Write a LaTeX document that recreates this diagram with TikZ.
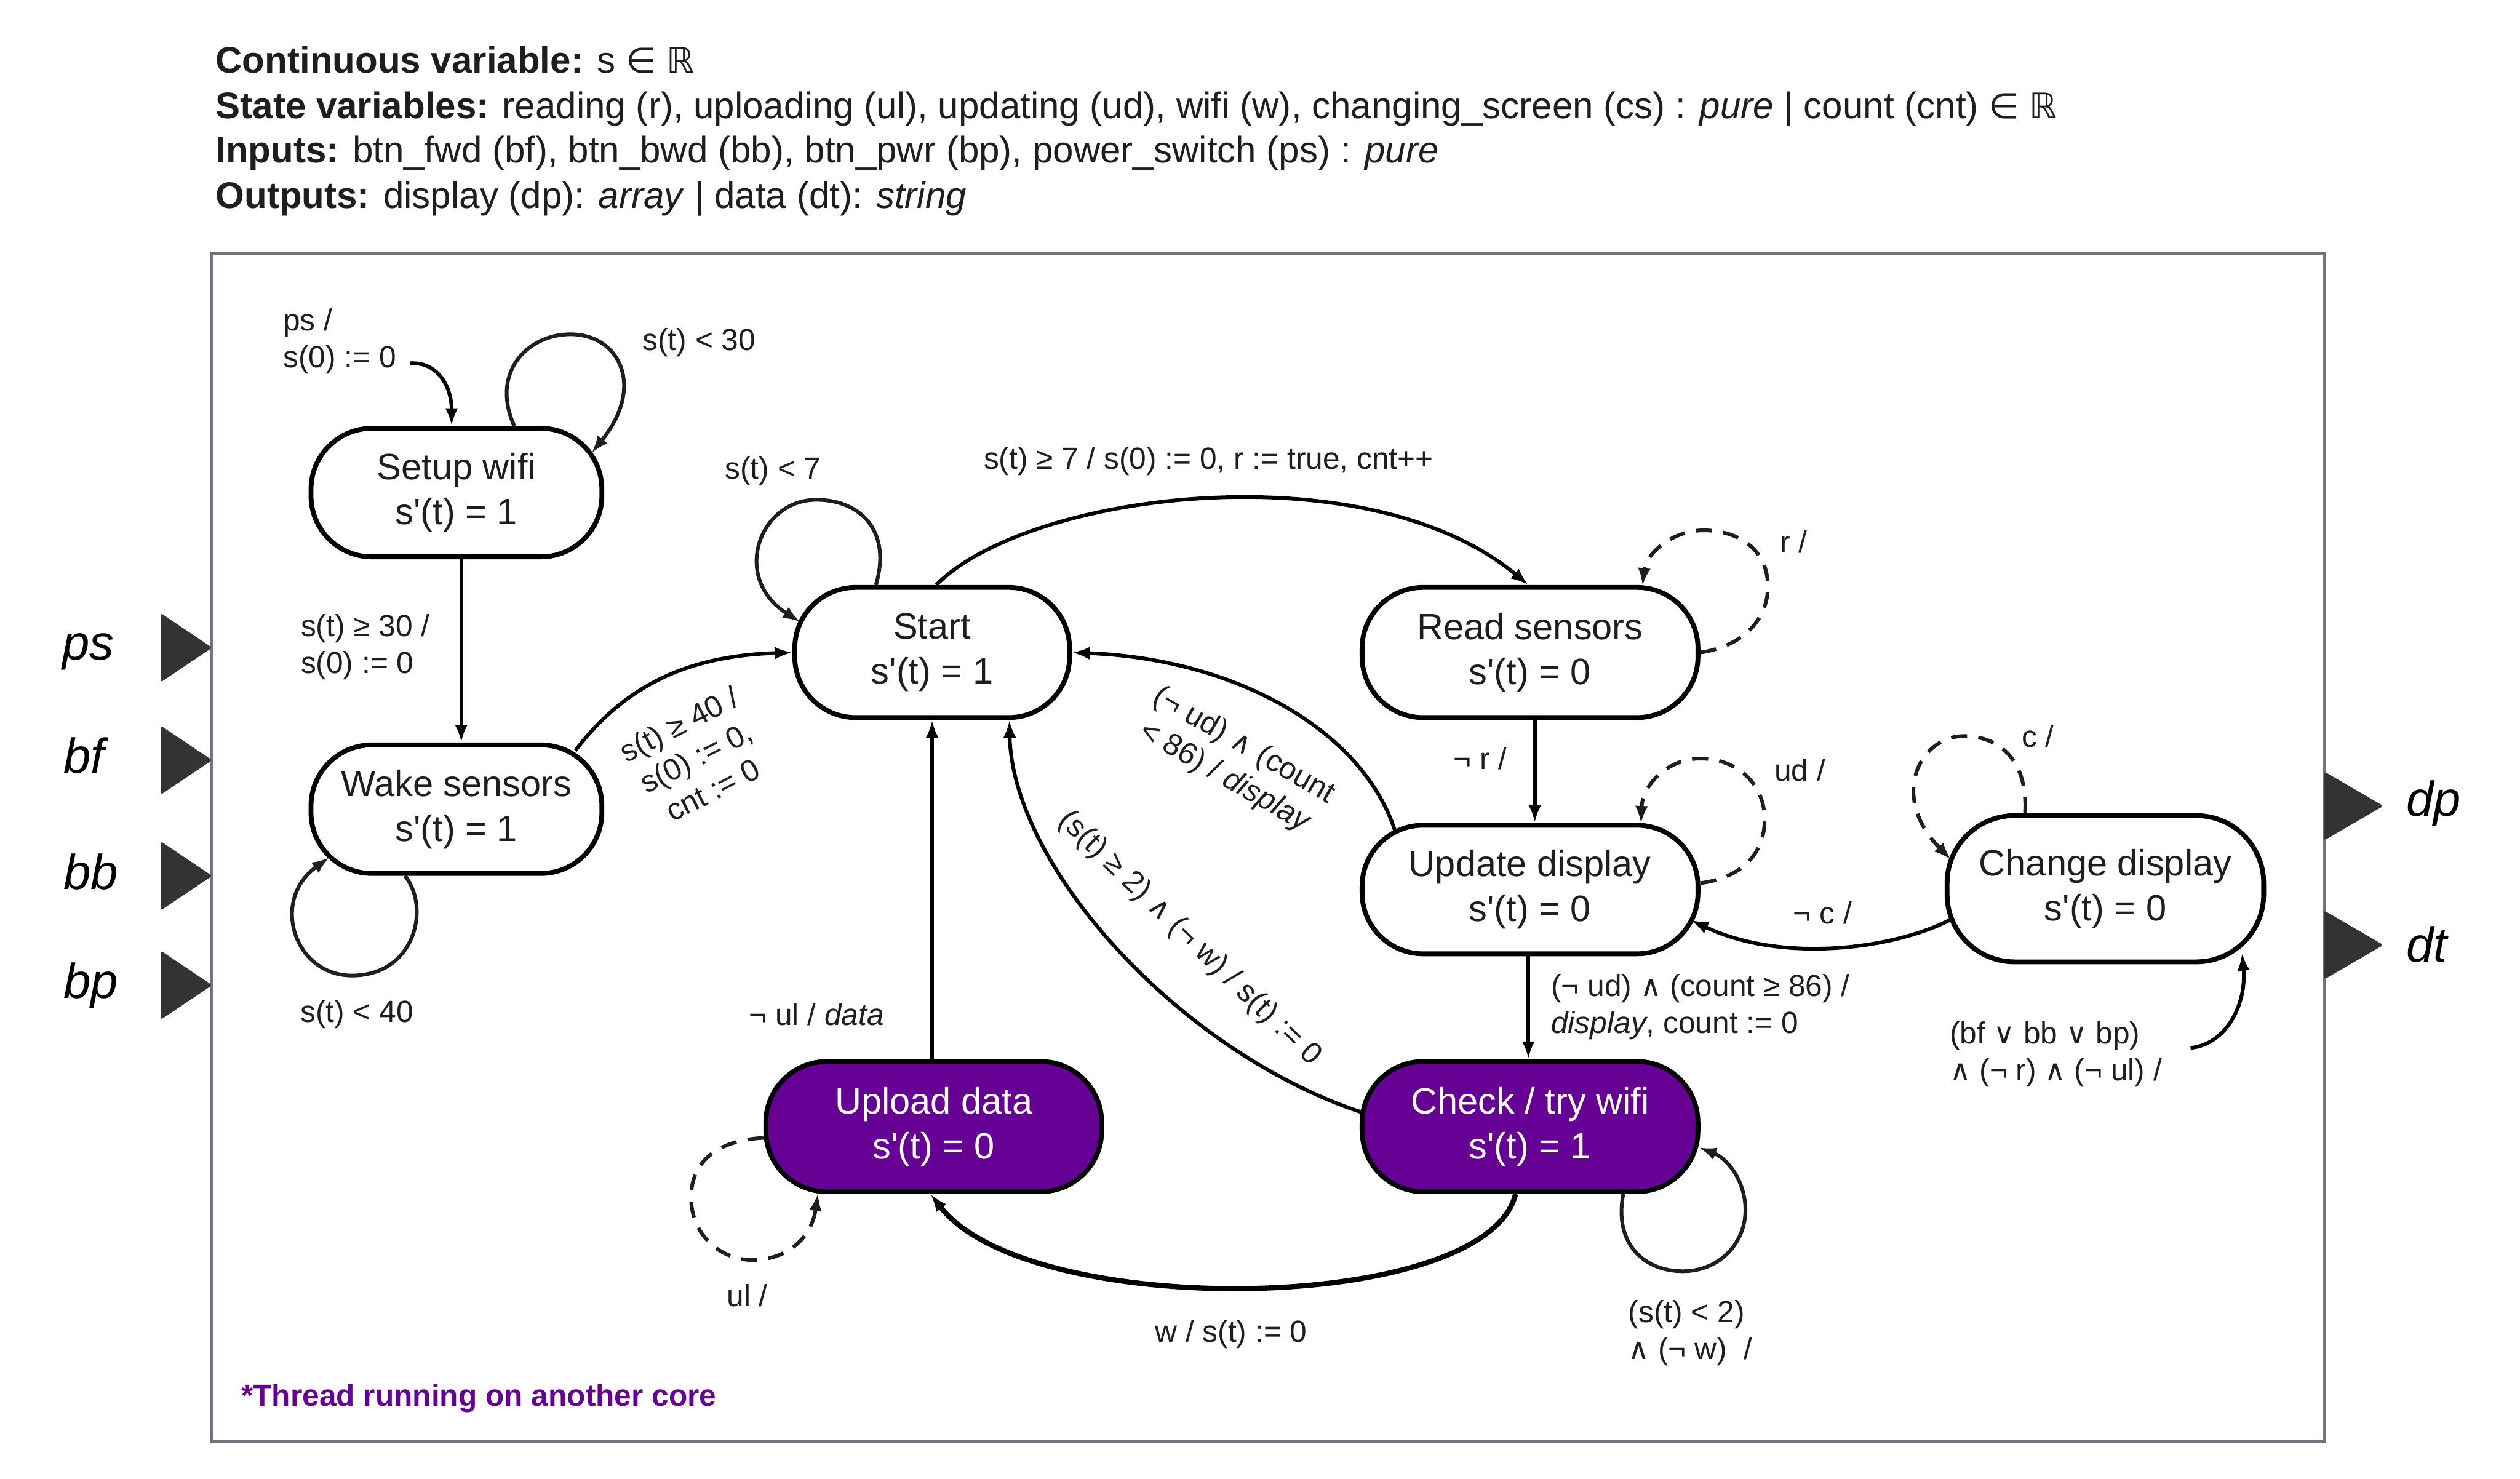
\documentclass[tikz,border=0pt]{standalone}
\usepackage{fontspec}
\newfontfamily\lsans{Liberation Sans}
\newfontfamily\dvs{DejaVu Sans}[Scale=0.95]
\usetikzlibrary{arrows.meta,calc}
\definecolor{purp}{RGB}{102,0,148}
\definecolor{framegray}{RGB}{110,116,128}
\definecolor{tri}{RGB}{51,51,51}
\definecolor{txt}{RGB}{30,30,30}
\newcommand{\myand}{{\dvs ∧}}
\newcommand{\myor}{{\dvs ∨}}
\newcommand{\myin}{{\dvs ∈}}
\newcommand{\myreal}{{\dvs ℝ}}
\begin{document}
\begin{tikzpicture}[x=1pt,y=-1pt,
  stbox/.style={draw=black, line width=3pt, rounded corners=38pt, align=center,
    font=\lsans\fontsize{22.8}{28}\selectfont, text=txt, inner sep=0pt},
  hot/.style={stbox, fill=purp, text=white},
  lbl/.style={font=\lsans\fontsize{19}{23}\selectfont, text=txt, inner sep=0pt, align=center},
  lbll/.style={lbl, align=left, anchor=west},
  hdr/.style={font=\lsans\fontsize{23}{28}\selectfont, text=txt, inner sep=0pt, anchor=base west},
  io/.style={font=\lsans\itshape\fontsize{30.5}{34}\selectfont, text=black, inner sep=0pt, anchor=west},
  tr/.style={line width=2.3pt, draw=black, -{Latex[length=11pt,width=8pt]}},
  lp/.style={tr, draw=txt},
  dl/.style={lp, dash pattern=on 10pt off 7pt},
]
\fill[white] (0,0) rectangle (1568,920);
\useasboundingbox (0,0) rectangle (1568,920);

% header
\node[hdr] (h1) at (134,45.5) {\textbf{Continuous variable:} s \myin{} \myreal};
\node[hdr] (h2) at (134,73.7) {\textbf{State variables:} reading (r), uploading (ul), updating (ud), wifi (w), changing\_screen (cs) : \textit{pure} | count (cnt) \myin{} \myreal};
\node[hdr] (h3) at (134,101.4) {\textbf{Inputs:} btn\_fwd (bf), btn\_bwd (bb), btn\_pwr (bp), power\_switch (ps) : \textit{pure}};
\node[hdr] (h4) at (134,129.6) {\textbf{Outputs:} display (dp): \textit{array} | data (dt): \textit{string}};

% frame
\draw[framegray, line width=2pt] (132,158) rectangle (1446,897);

% inputs / outputs
\foreach \yy in {403,473,545,613}
  \fill[tri, rounded corners=1.5pt] (100,\yy-21.5) -- (132,\yy) -- (100,\yy+21.5) -- cycle;
\foreach \yy in {501.5,588}
  \fill[tri, rounded corners=1.5pt] (1446,\yy-21.5) -- (1483,\yy) -- (1446,\yy+21.5) -- cycle;
\node[io] (ips) at (38.6,405.5) {ps};
\node[io] (ibf) at (39.4,470) {bf};
\node[io] (ibb) at (39.4,542.4) {bb};
\node[io] (ibp) at (39.4,613.2) {bp};
\node[io] (odp) at (1497,500) {dp};
\node[io] (odt) at (1497,587.7) {dt};

% states
\node[stbox, minimum width=181pt, minimum height=80pt] (sw) at (284,306.5) {Setup wifi\\s'(t) = 1};
\node[stbox, minimum width=181pt, minimum height=80pt] (ws) at (284,503.5) {Wake sensors\\s'(t) = 1};
\node[stbox, minimum width=171pt, minimum height=81pt] (st) at (580,406) {Start\\s'(t) = 1};
\node[stbox, minimum width=209pt, minimum height=81pt] (rs) at (952,406) {Read sensors\\s'(t) = 0};
\node[stbox, minimum width=209pt, minimum height=80pt] (ud) at (952,553.5) {Update display\\s'(t) = 0};
\node[stbox, minimum width=197pt, minimum height=91pt, rounded corners=42pt] (cd) at (1310,553) {Change display\\s'(t) = 0};
\node[hot, minimum width=209pt, minimum height=81pt] (up) at (581,701) {Upload data\\s'(t) = 0};
\node[hot, minimum width=209pt, minimum height=81pt] (ck) at (952,701) {Check / try wifi\\s'(t) = 1};

% transitions
\coordinate (ini) at (255,226);
\draw[tr] (ini) .. controls (272,225) and (281,240) .. ($(sw.north)+(-3,0)$);
\draw[lp] ($(sw)+(36,-41.5)$) .. controls (305,232) and (328,208) .. (355,208) .. controls (385,208) and (402,240) .. ($(sw)+(84,-24.5)$);
\draw[tr] ($(sw.south)+(3,0)$) -- ($(ws.north)+(3,0)$);
\draw[lp] ($(ws)+(-32,41.5)$) .. controls (268,565) and (258,607) .. (219,607) .. controls (183,607) and (168,560) .. ($(ws)+(-79,30)$);
\draw[tr] ($(ws)+(74,-36.5)$) .. controls (390,425) and (430,408) .. (st.west);
\draw[lp] ($(st)+(-35,-42)$) .. controls (555,330) and (535,311) .. (508,311) .. controls (472,311) and (455,360) .. ($(st)+(-82,-19)$);
\draw[tr] ($(st)+(2.5,-42)$) .. controls (640,306) and (850,280) .. ($(rs.north)+(-1,0)$);
\draw[dl] (rs.east) .. controls (1085,402) and (1100,385) .. (1100,365) .. controls (1100,342) and (1082,330) .. (1060,330) .. controls (1040,330) and (1024,345) .. ($(rs)+(70,-41.5)$);
\draw[tr] ($(rs.south)+(3,0)$) -- ($(ud.north)+(3,0)$);
\draw[dl] ($(ud.east)+(0,-4)$) .. controls (1085,546) and (1098,530) .. (1098,510) .. controls (1098,487) and (1080,472) .. (1058,472) .. controls (1038,472) and (1022,488) .. ($(ud)+(69,-41)$);
\draw[dl] ($(cd)+(-50,-47)$) .. controls (1262,472) and (1243,458) .. (1222,458) .. controls (1195,458) and (1175,495) .. ($(cd)+(-96,-18)$);
\draw[tr] ($(cd)+(-96,19)$) .. controls (1180,590) and (1110,600) .. ($(ud)+(100,19)$);
\draw[tr] ($(ud.south)+(-1,0)$) -- ($(ck.north)+(-1,0)$);
\coordinate (bfc) at (1363,652);
\draw[tr] (bfc) .. controls (1385,650) and (1398,625) .. ($(cd)+(85,40)$);
\draw[tr] ($(ud)+(-84,-36.5)$) .. controls (848,455) and (770,410) .. (st.east);
\draw[tr] ($(ck)+(-105,-9)$) .. controls (735,655) and (630,540) .. ($(st)+(48,42)$);
\draw[tr] ($(up.north)+(-1,0)$) -- ($(st.south)+(0,0)$);
\draw[dl] ($(up)+(-106,7)$) .. controls (440,710) and (430,728) .. (430,745) .. controls (430,770) and (450,784) .. (468,784) .. controls (490,784) and (505,770) .. ($(up)+(-72,41.5)$);
\draw[tr, line width=3.2pt] ($(ck.south)+(-9,0)$) .. controls (925,818) and (640,822) .. ($(up.south)+(-2,0)$);
\draw[lp] ($(ck)+(58,42)$) .. controls (1004,775) and (1024,791) .. (1047,791) .. controls (1071,791) and (1087,772) .. (1086,751) .. controls (1085,732) and (1073,720) .. ($(ck)+(105,13)$);

% labels
\node[lbll] (l1) at (176,212.5) {ps /\\s(0) := 0};
\node[lbl] (l2) at (435,213) {s(t) < 30};
\node[lbll] (l3) at (187,402.5) {s(t) ≥ 30 /\\s(0) := 0};
\node[lbl] (l4) at (222,631) {s(t) < 40};
\node[lbl, rotate=27] (l5) at (433,471) {s(t) ≥ 40 /\\s(0) := 0,\\cnt := 0};
\node[lbl] (l6) at (481,293) {s(t) < 7};
\node[lbl] (l7) at (752,287) {s(t) ≥ 7 / s(0) := 0, r := true, cnt++};
\node[lbl] (l8) at (1116,337) {r /};
\node[lbl] (l9) at (921,472) {¬ r /};
\node[lbl] (l10) at (1120,479) {ud /};
\node[lbl] (l11) at (1268,458) {c /};
\node[lbl] (l12) at (1134,568) {¬ c /};
\node[lbll] (l13) at (965,626.5) {(¬ ud) \myand{} (count ≥ 86) /\\\textit{display}, count := 0};
\node[lbll] (l14) at (1213,656) {(bf \myor{} bb \myor{} bp)\\\myand{} (¬ r) \myand{} (¬ ul) /};
\node[lbl, rotate=-30] (l15) at (768,474) {(¬ ud) \myand{} (count\\< 86) / \textit{display}};
\node[lbl, rotate=-44] (l16) at (740,584) {(s(t) ≥ 2) \myand{} (¬ w) / s(t) := 0};
\node[lbl] (l17) at (508,631) {¬ ul / \textit{data}};
\node[lbl] (l18) at (465,806) {ul /};
\node[lbl] (l19) at (766,830) {w / s(t) := 0};
\node[lbll] (l20) at (1013,829.5) {(s(t) < 2)\\\myand{} (¬ w)\ \ /};
\node[lbll, text=purp, font=\lsans\bfseries\fontsize{19}{23}\selectfont] (l21) at (150,870) {*Thread running on another core};
\end{tikzpicture}
\end{document}
